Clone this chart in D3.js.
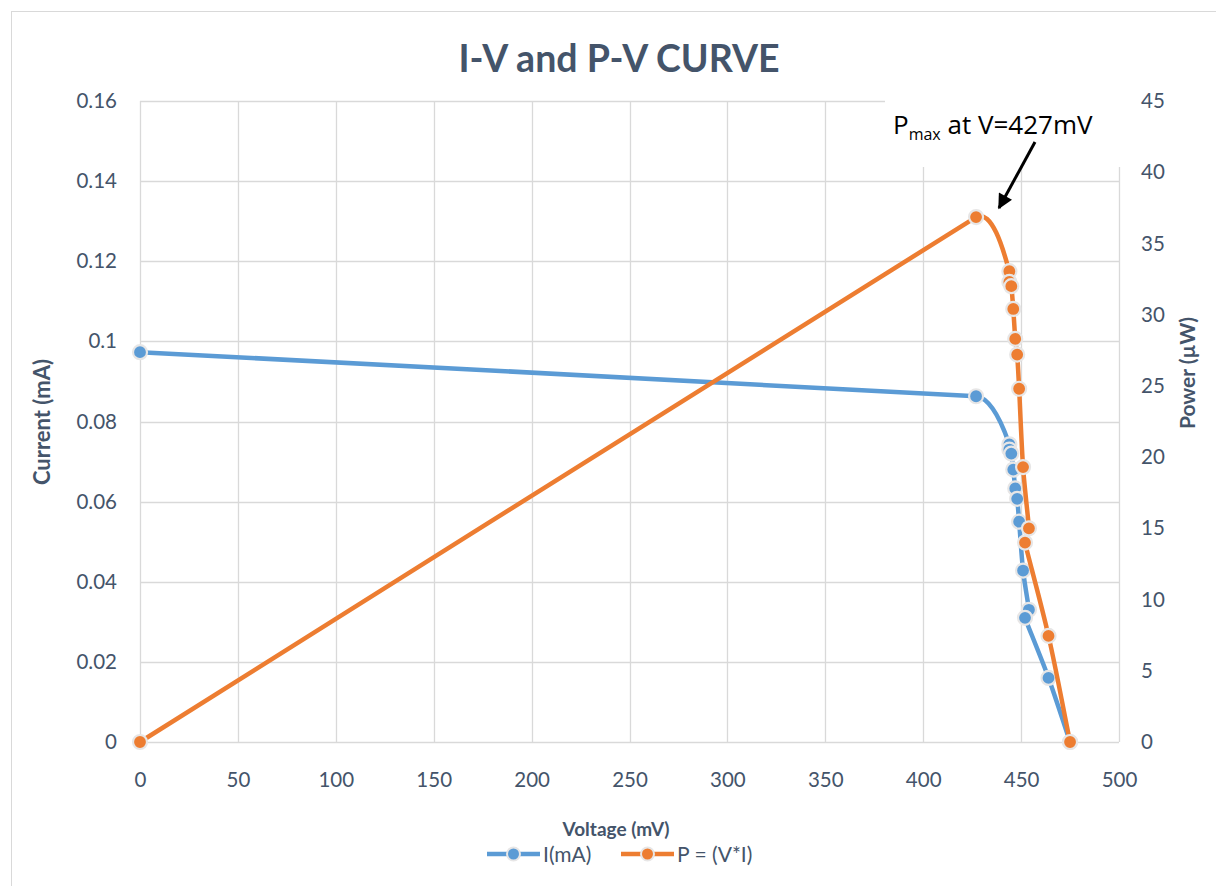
<!DOCTYPE html>
<html>
<head>
<meta charset="utf-8">
<script src="https://cdn.jsdelivr.net/npm/d3@7/dist/d3.min.js"></script>
<style>
  html, body { margin: 0; padding: 0; background: #fff; }
  svg { display: block; }
  text { font-family: Lato, "Open Sans", "Liberation Sans", sans-serif; }
</style>
</head>
<body>
<svg id="chart" width="1216" height="886"></svg>
<script>
// Measured cell data: voltage (mV), current (mA) and power (µW)
const voltage = [0, 427, 444, 444, 445, 446, 447, 448, 449, 451, 454, 452, 464, 475];
const current = [0.0973, 0.0863, 0.0743, 0.073, 0.072, 0.068, 0.0633, 0.0607, 0.055, 0.0428, 0.033, 0.031, 0.016, 0];
const power   = [0, 36.85, 33.05, 32.3, 32.0, 30.4, 28.3, 27.2, 24.8, 19.3, 15.0, 14.0, 7.45, 0];

const xTicks = [0, 50, 100, 150, 200, 250, 300, 350, 400, 450, 500];
const iTicks = [0, 0.02, 0.04, 0.06, 0.08, 0.1, 0.12, 0.14, 0.16];
const pTicks = [0, 5, 10, 15, 20, 25, 30, 35, 40, 45];

const seriesNames = ["I(mA)", "P = (V*I)"];
const colors = ["#5b9bd5", "#ed7d31"];

const svg = d3.select("#chart");
const plot = { left: 140, right: 1119, top: 101, bottom: 742 };
const textColor = "#44546a";
const gridColor = "#d9d9d9";

const x = d3.scaleLinear().domain([0, 500]).range([plot.left, plot.right]);
const yI = d3.scaleLinear().domain([0, 0.16]).range([plot.bottom, plot.top]);
const yP = d3.scaleLinear().domain([0, 45]).range([plot.bottom, plot.top]);

// Smoothed line: cubic Bezier per segment, tangent along the neighbours' chord,
// handle length limited by the shorter adjacent segment so long spans stay straight.
function smoothPath(pts) {
  const p = d3.path();
  const n = pts.length;
  const dist = (a, b) => Math.hypot(b[0] - a[0], b[1] - a[1]);
  const tangent = i => {
    const a = pts[Math.max(0, i - 1)], b = pts[Math.min(n - 1, i + 1)];
    const d = dist(a, b) || 1;
    return [(b[0] - a[0]) / d, (b[1] - a[1]) / d];
  };
  const handle = i => {
    const prev = i > 0 ? dist(pts[i - 1], pts[i]) : Infinity;
    const next = i < n - 1 ? dist(pts[i], pts[i + 1]) : Infinity;
    return Math.min(prev, next) / 3;
  };
  p.moveTo(pts[0][0], pts[0][1]);
  for (let i = 0; i < n - 1; i++) {
    const a = pts[i], b = pts[i + 1];
    const ta = tangent(i), tb = tangent(i + 1);
    const ha = Math.min(handle(i) * 1.3, dist(a, b) / 3), hb = Math.min(handle(i + 1), dist(a, b) / 3);
    p.bezierCurveTo(a[0] + ta[0] * ha, a[1] + ta[1] * ha,
                    b[0] - tb[0] * hb, b[1] - tb[1] * hb, b[0], b[1]);
  }
  return p.toString();
}

// chart frame
svg.append("rect")
  .attr("x", 11.5).attr("y", 11.5).attr("width", 1220).attr("height", 900)
  .attr("fill", "#fff").attr("stroke", gridColor).attr("stroke-width", 1);

// gridlines
const grid = svg.append("g");
grid.selectAll("line.v").data(xTicks).join("line")
  .attr("x1", d => Math.round(x(d)) + 0.5).attr("x2", d => Math.round(x(d)) + 0.5)
  .attr("y1", plot.top).attr("y2", plot.bottom)
  .attr("stroke", gridColor).attr("stroke-width", 1.3);
grid.selectAll("line.h").data(iTicks).join("line")
  .attr("x1", plot.left).attr("x2", plot.right)
  .attr("y1", d => Math.round(yI(d)) + 0.5).attr("y2", d => Math.round(yI(d)) + 0.5)
  .attr("stroke", gridColor).attr("stroke-width", 1.3);

// axes (labels only)
const fmtI = d => d === 0 ? "0" : d3.format("~g")(d);
const leftAxis = svg.append("g").attr("transform", `translate(${plot.left},0)`)
  .call(d3.axisLeft(yI).tickValues(iTicks).tickFormat(fmtI).tickSize(0).tickPadding(23));
const rightAxis = svg.append("g").attr("transform", `translate(${plot.right},0)`)
  .call(d3.axisRight(yP).tickValues(pTicks).tickSize(0).tickPadding(22));
const bottomAxis = svg.append("g").attr("transform", `translate(0,${plot.bottom})`)
  .call(d3.axisBottom(x).tickValues(xTicks).tickSize(0).tickPadding(30));
[leftAxis, rightAxis, bottomAxis].forEach(a => {
  a.select(".domain").remove();
  a.selectAll("text").attr("fill", textColor).style("font-size", "20.5px")
    .style("font-family", "Lato, 'Open Sans', sans-serif");
});

// series
const idx = d3.range(voltage.length);
function drawSeries(yScale, values, color) {
  const pts = idx.map(i => [x(voltage[i]), yScale(values[i])]);
  const g = svg.append("g");
  g.append("path").attr("d", smoothPath(pts)).attr("fill", "none")
    .attr("stroke", color).attr("stroke-width", 4.5)
    .attr("stroke-linejoin", "round").attr("stroke-linecap", "round");
  g.selectAll("circle").data(idx).join("circle")
    .attr("cx", i => x(voltage[i])).attr("cy", i => yScale(values[i]))
    .attr("r", 7).attr("fill", color)
    .attr("stroke", "#e7e6e6").attr("stroke-width", 2.2);
}
drawSeries(yI, current, colors[0]);
drawSeries(yP, power, colors[1]);

// title
svg.append("text").attr("x", 619).attr("y", 72).attr("text-anchor", "middle")
  .attr("fill", textColor).style("font-size", "37.5px").style("font-weight", "bold")
  .text("I-V and P-V CURVE");

// axis titles
svg.append("text").attr("transform", "translate(50,422) rotate(-90)")
  .attr("text-anchor", "middle").attr("fill", textColor)
  .style("font-size", "22px").style("font-weight", "bold").text("Current (mA)");
svg.append("text").attr("transform", "translate(1195,373) rotate(-90)")
  .attr("text-anchor", "middle").attr("fill", textColor)
  .style("font-size", "21px").style("font-weight", "bold").text("Power (µW)");
svg.append("text").attr("x", 616).attr("y", 836).attr("text-anchor", "middle")
  .attr("fill", textColor).style("font-size", "19px").style("font-weight", "bold")
  .text("Voltage (mV)");

// legend
const legend = svg.append("g").attr("transform", "translate(0,854)");
const legendItems = [{ x0: 487, tx: 543 }, { x0: 621, tx: 677 }];
legendItems.forEach((it, k) => {
  legend.append("line").attr("x1", it.x0).attr("x2", it.x0 + 53)
    .attr("y1", 0).attr("y2", 0).attr("stroke", colors[k]).attr("stroke-width", 4.5);
  legend.append("circle").attr("cx", it.x0 + 26.5).attr("cy", 0).attr("r", 6.5)
    .attr("fill", colors[k]).attr("stroke", "#e7e6e6").attr("stroke-width", 2);
  legend.append("text").attr("x", it.tx).attr("y", 7.5).attr("fill", textColor)
    .style("font-size", "21px").text(seriesNames[k]);
});

// annotation for maximum power point
const maxIdx = d3.maxIndex(power);
const note = svg.append("g");
note.append("rect").attr("x", 885).attr("y", 95).attr("width", 240).attr("height", 72).attr("fill", "#fff");
const noteText = note.append("text").attr("x", 893).attr("y", 134).attr("fill", "#000")
  .style("font-size", "26px").style("font-family", "'Open Sans', Lato, sans-serif");
noteText.append("tspan").text("P");
noteText.append("tspan").attr("dy", 6).style("font-size", "16px").text("max");
noteText.append("tspan").attr("dy", -6).text(" at V=" + voltage[maxIdx] + "mV");

svg.append("defs").append("marker").attr("id", "arrowhead")
  .attr("viewBox", "0 0 10 10").attr("refX", 9).attr("refY", 5)
  .attr("markerWidth", 5.5).attr("markerHeight", 5).attr("orient", "auto")
  .append("path").attr("d", "M0,0 L10,5 L0,10 z").attr("fill", "#000");
note.append("line").attr("x1", 1035).attr("y1", 142).attr("x2", 999).attr("y2", 208)
  .attr("stroke", "#000").attr("stroke-width", 3).attr("marker-end", "url(#arrowhead)");
</script>
</body>
</html>
